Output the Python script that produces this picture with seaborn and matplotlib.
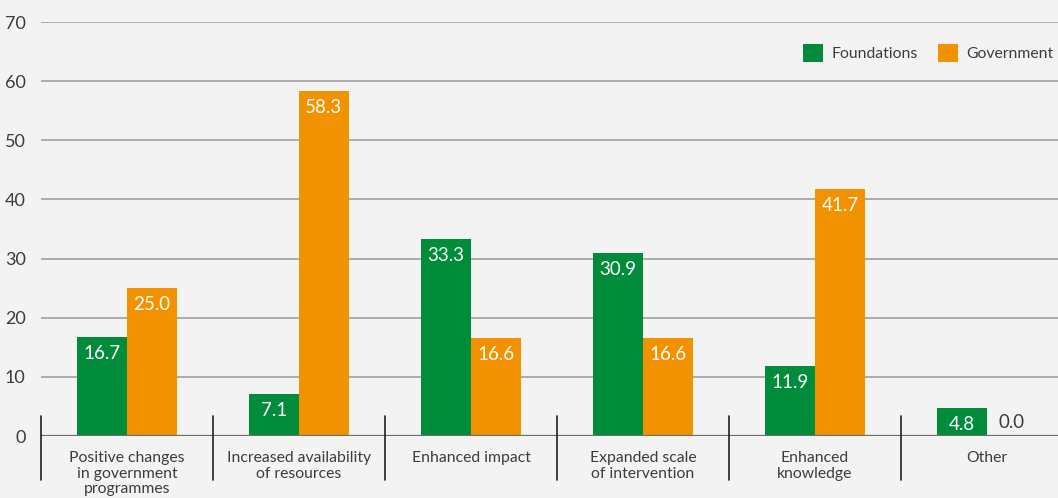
import numpy as np
import pandas as pd
import matplotlib
matplotlib.use('Agg')
import matplotlib.pyplot as plt
import matplotlib.transforms as mtransforms
from matplotlib.patches import Patch
import seaborn as sns

# ---- data ----------------------------------------------------------------#
categories = ['Positive changes\nin government\nprogrammes',
              'Increased availability\nof resources',
              'Enhanced impact',
              'Expanded scale\nof intervention',
              'Enhanced\nknowledge',
              'Other']
foundations = [16.7, 7.1, 33.3, 30.9, 11.9, 4.8]
government = [25.0, 58.3, 16.6, 16.6, 41.7, 0.0]
series = ['Foundations', 'Government']
colors = ['#008c3a', '#f39200']

df = pd.DataFrame({
    'category': categories * 2,
    'value': foundations + government,
    'series': ['Foundations'] * len(categories) + ['Government'] * len(categories),
})

# ---- style ---------------------------------------------------------------#
bg = '#f2f3f2'
sns.set_style('white')
plt.rcParams['font.family'] = ['Lato', 'DejaVu Sans']

fig = plt.figure(figsize=(10.58, 4.98), dpi=100, facecolor=bg)
ax = fig.add_axes([41 / 1058, 62 / 498, 1032 / 1058, 414 / 498])
ax.set_facecolor(bg)

sns.barplot(data=df, x='category', y='value', hue='series', palette=colors,
            hue_order=series, order=categories, width=0.58, gap=0,
            saturation=1, linewidth=0, legend=False, ax=ax)

ax.set_ylim(0, 70)
ax.set_xlim(-0.5, len(categories) - 0.5)
ax.set_yticks(range(0, 71, 10))
ax.set_xlabel('')
ax.set_ylabel('')
for s in ax.spines.values():
    s.set_visible(False)
ax.yaxis.grid(True, color='#a6a6a6', linewidth=1.3)
ax.set_axisbelow(True)
ax.axhline(0, color='#6e6e6e', linewidth=1.6, zorder=3)
ax.tick_params(axis='y', length=0, pad=11, labelsize=13, labelcolor='#3c3c3c')
ax.tick_params(axis='x', length=0, pad=11, labelsize=11.3, labelcolor='#3c3c3c')
for lab in ax.get_xticklabels():
    lab.set_linespacing(1.12)
    lab.set_verticalalignment('top')

# group separators crossing the zero line
trans = mtransforms.blended_transform_factory(ax.transData, ax.transAxes)
for i in range(len(categories)):
    ax.plot([i - 0.5, i - 0.5], [0.048, -0.106], color='#222222', linewidth=1.2,
            transform=trans, clip_on=False, zorder=4)

# value labels
for cont, vals in zip(ax.containers, [foundations, government]):
    for bar, v in zip(cont, vals):
        xc = bar.get_x() + bar.get_width() / 2
        if v > 2:
            ax.text(xc, v - 2.8, f'{v:.1f}', ha='center', va='center',
                    color='white', fontsize=13.5)
        else:
            ax.text(xc, v + 2.2, f'{v:.1f}', ha='center', va='center',
                    color='#3c3c3c', fontsize=13.5)

# legend
handles = [Patch(facecolor=c, edgecolor='none') for c in colors]
fig.legend(handles, series, loc='center left', bbox_to_anchor=(798 / 1058, 1 - 53 / 498),
           ncol=2, frameon=False, fontsize=11.3, handlelength=1.3, handleheight=1.3,
           columnspacing=1.25, handletextpad=0.55, labelcolor='#3c3c3c',
           borderaxespad=0, borderpad=0.3)

fig.savefig('out.png', dpi=100, facecolor=bg)
